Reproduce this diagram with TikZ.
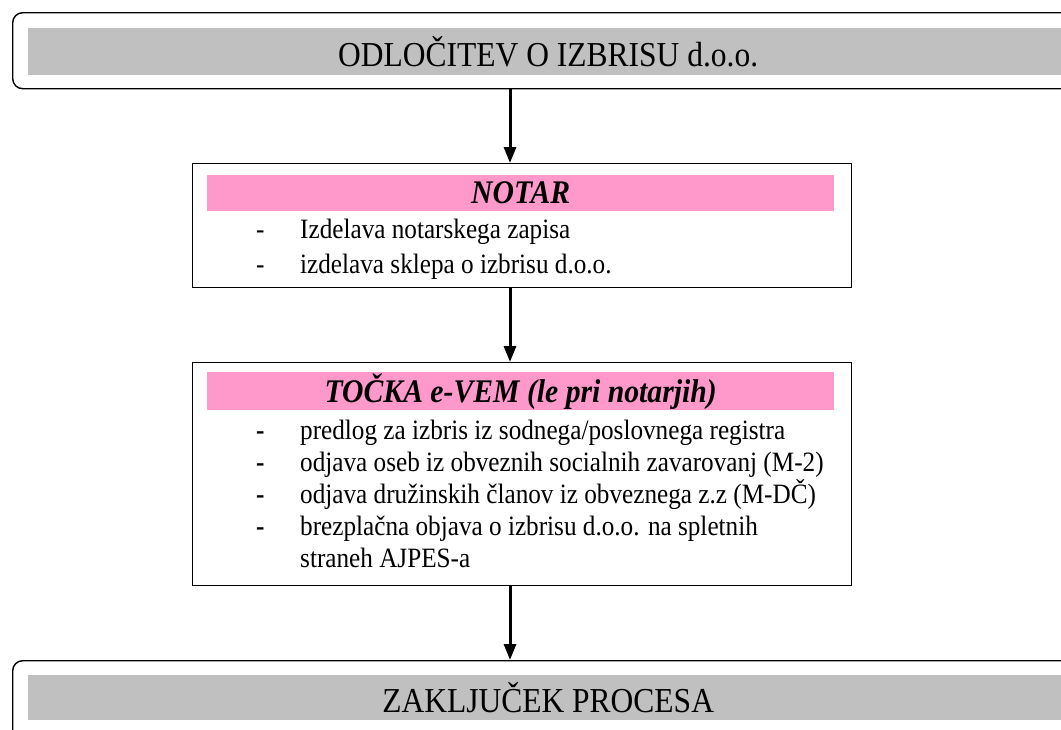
\documentclass[tikz,border=0pt]{standalone}
\usepackage{fontspec}
\setmainfont{Liberation Serif}[FakeStretch=0.9]
\usepackage{tikz}
\usetikzlibrary{arrows.meta,calc}

\definecolor{barpink}{HTML}{FF99CC}
\definecolor{bargray}{HTML}{C0C0C0}

\tikzset{
  outerbox/.style={draw, line width=1.4pt, rounded corners=10pt, inner sep=0pt},
  stepbox/.style={draw, line width=1.2pt, inner sep=0pt},
  graybar/.style={fill=bargray, inner sep=0pt, font=\fontsize{35}{38}\selectfont},
  pinkbar/.style={fill=barpink, inner sep=0pt, font=\fontsize{33}{36}\selectfont\bfseries\itshape},
  listtext/.style={inner sep=0pt, anchor=base west, font=\fontsize{28}{33}\selectfont},
  flow/.style={line width=3pt, -{Triangle[length=16pt,width=12pt]}}
}

\begin{document}
\begin{tikzpicture}[x=1pt,y=-1pt]
\useasboundingbox (0,0) rectangle (1061,729);
\clip (0,0) rectangle (1061,729);

% start
\node[outerbox, minimum width=1085, minimum height=76, anchor=north west] (odlocitev) at (12,12) {};
\node[graybar, minimum width=1040, minimum height=47, anchor=north west] (odlocitevbar) at (28,28) {ODLOČITEV O IZBRISU d.o.o.};

% notar
\node[stepbox, minimum width=659, minimum height=124, anchor=north west] (notar) at (192,163) {};
\node[pinkbar, minimum width=627, minimum height=36, anchor=north west] (notarbar) at (207,175) {NOTAR};
\foreach \txt [count=\i] in {Izdelava notarskega zapisa, izdelava sklepa o izbrisu d.o.o.} {
  \node[listtext] (notardash\i) at (256,{238+35*(\i-1)}) {-};
  \node[listtext] (notaritem\i) at (300,{238+35*(\i-1)}) {\txt};
}

% tocka e-VEM
\node[stepbox, minimum width=659, minimum height=223, anchor=north west] (tocka) at (192,362) {};
\node[pinkbar, minimum width=627, minimum height=38, anchor=north west] (tockabar) at (207,372) {TOČKA e-VEM (le pri notarjih)};
\foreach \txt [count=\i] in {predlog za izbris iz sodnega/poslovnega registra,
    odjava oseb iz obveznih socialnih zavarovanj (M-2),
    odjava družinskih članov iz obveznega z.z (M-DČ),
    brezplačna objava o izbrisu d.o.o. na spletnih} {
  \node[listtext] (tockadash\i) at (256,{439+32*(\i-1)}) {\textbf{-}};
  \node[listtext] (tockaitem\i) at (300,{439+32*(\i-1)}) {\txt};
}
\node[listtext] (tockaitem5) at (300,567) {straneh AJPES-a};

% end
\node[outerbox, minimum width=1085, minimum height=100, anchor=north west] (zakljucek) at (12,660) {};
\node[graybar, minimum width=1040, minimum height=45, anchor=north west] (zakljucekbar) at (28,675) {ZAKLJUČEK PROCESA};

\coordinate (axis) at (510,0);
\draw[flow] (odlocitev.south -| axis) -- (notar.north -| axis);
\draw[flow] (notar.south -| axis) -- (tocka.north -| axis);
\draw[flow] (tocka.south -| axis) -- (zakljucek.north -| axis);
\end{tikzpicture}
\end{document}
